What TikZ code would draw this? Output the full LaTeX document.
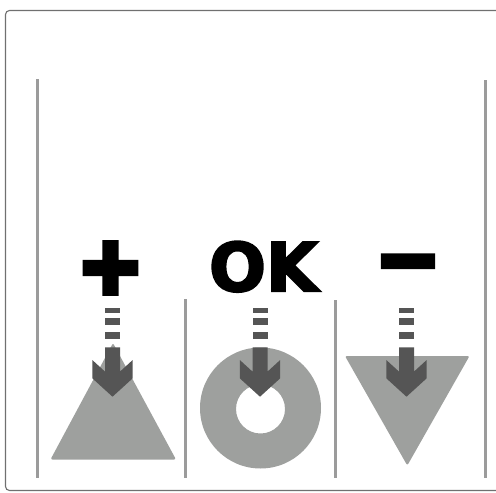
\documentclass[tikz,border=0pt]{standalone}
\usepackage{fontspec}
\newfontfamily\signfont{DejaVu Sans Bold}[FakeBold=3]
\newfontfamily\heavysign{DejaVu Sans Bold}[FakeBold=9]
\usetikzlibrary{positioning}

\definecolor{shapegray}{RGB}{158,160,158}
\definecolor{arrowgray}{RGB}{85,85,85}
\definecolor{rulegray}{RGB}{155,155,155}
\definecolor{framegray}{RGB}{112,112,112}

\begin{document}
\begin{tikzpicture}[
    x=1pt, y=-1pt,
    sign/.style={inner sep=0pt, text=black},
    rule/.style={draw=rulegray, line width=3pt},
    icon/.style={fill=shapegray, draw=none},
    hint/.style={fill=arrowgray, draw=none},
  ]
  \useasboundingbox (0,0) rectangle (496,493);

  % outer frame, runs off at the right
  \draw[framegray, line width=1.1pt, rounded corners=4pt] (5.5,10.5) rectangle (510,490.5);

  % column rules
  \draw[rule] (37,79) -- (37,478);
  \draw[rule] (185.5,299) -- (185.5,478);
  \draw[rule] (335,300) -- (335,478);
  \draw[rule] (485,80) -- (485,478);

  % signs
  \node[sign, font=\heavysign\fontsize{78}{78}\selectfont] (plus) at (110.5,268) {+};
  \node[sign, font=\signfont\fontsize{67}{67}\selectfont] (ok) at (263.5,266.7) {OK};
  \node[sign, font=\heavysign\fontsize{76}{76}\selectfont] (minus) at (408,271) {−};

  % shapes
  \fill[icon, rounded corners=2pt] (113,343) -- (176,459.5) -- (50.5,459.5) -- cycle;
  \fill[icon, even odd rule] (260.5,408) circle[radius=60.5] (260.5,409) circle[radius=24.5];
  \fill[icon, rounded corners=2pt] (345,356) -- (469.5,356) -- (407.3,465.5) -- cycle;

  % arrows
  \foreach \c in {112.5,260,406.5} {
    \fill[hint] (\c-7.5,308.3) rectangle (\c+7.5,312.7);
    \fill[hint] (\c-7.5,318.3) rectangle (\c+7.5,325);
    \fill[hint] (\c-7.5,332.3) rectangle (\c+7.5,339.3);
    \fill[hint] (\c-7.5,347.3) -- (\c+7.5,347.3) -- (\c+7.5,371.6) -- (\c+20.2,360)
      -- (\c+20.2,378.3) -- (\c,396.7) -- (\c-20.2,378.3) -- (\c-20.2,360)
      -- (\c-7.5,371.6) -- cycle;
  }
\end{tikzpicture}
\end{document}
